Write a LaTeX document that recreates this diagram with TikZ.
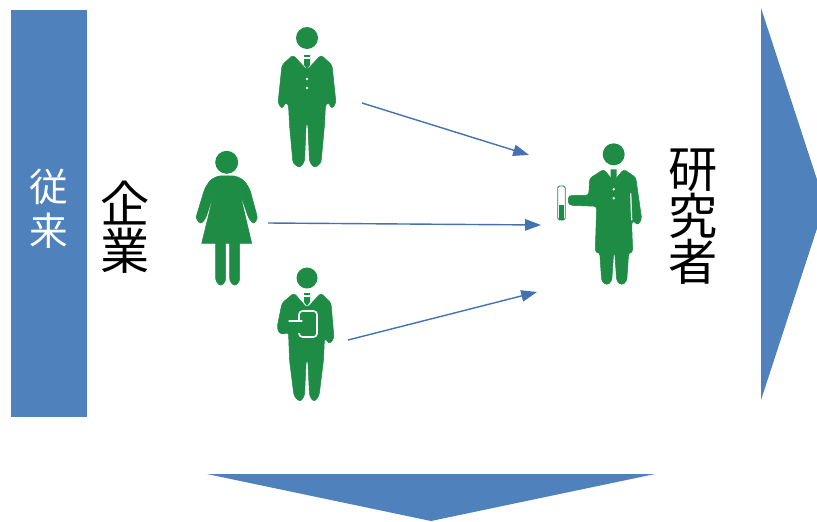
\documentclass[tikz,border=0pt]{standalone}
\usepackage{fontspec}
\newfontfamily\cjk{Noto Sans CJK JP}
\usetikzlibrary{arrows.meta,positioning}
\definecolor{azulBar}{RGB}{79,129,189}
\definecolor{azulArr}{RGB}{68,114,176}
\definecolor{verdeFig}{RGB}{30,140,69}
\tikzset{
  fig/.style  = {fill=verdeFig, draw=verdeFig, line width=0.3pt, rounded corners=1.6pt},
  gap/.style  = {draw=white, line width=0.7pt},
  bar/.style  = {fill=azulBar, draw=none},
  arr/.style  = {-{Triangle[length=9pt,width=6.5pt]}, draw=azulArr, line width=0.8pt},
  lblW/.style = {align=center, text=white, inner sep=0pt, font=\cjk\fontsize{22}{25}\selectfont},
  lblK/.style = {align=center, text=black, inner sep=0pt, font=\cjk\fontsize{28}{26.5}\selectfont},
  pics/manfig/.style = {code={
    \fill[verdeFig] (0,0) circle (11);
    \path[fig] (-14,17) -- (-25,27) -- (-29,65) -- (-25,71) -- (-21,64) -- (-18.5,67)
      -- (-17.5,87) -- (-14,125) -- (-7.5,130) -- (-2.5,124) -- (-0.8,85) -- (0.8,85) -- (2.5,124) -- (7.5,130)
      -- (14,125) -- (17.5,87) -- (18.5,67) -- (21,64) -- (25,71) -- (29,65) -- (25,27) -- (14,17)
      -- (0,32) -- cycle;
    \fill[verdeFig] (-3,17) -- (3,17) -- (3,27) -- (0,31) -- (-3,27) -- cycle;
    \draw[gap] (-3,20) -- (3,20);
    \fill[white] (0,41) circle (1.4) (0,50) circle (1.4);
  }},
}
\begin{document}
\begin{tikzpicture}[x=0.02cm, y=-0.02cm]
\useasboundingbox (0,0) rectangle (817,521);
\clip (0,0) rectangle (817,521);

% ── Barras ───────────────────────────────────────────────────
\node[bar, minimum width=1.52cm, minimum height=8.14cm, inner sep=0pt] (conv) at (49,213.5) {};
\node[lblW] (convT) at (49,209) {従\\来};
\path[bar, fill=azulBar] (761,8) -- (825,204) -- (761,400) -- cycle;
\path[bar, fill=azulBar] (207,474) -- (655,474) -- (431,521) -- cycle;

% ── Textos ───────────────────────────────────────────────────
\node[lblK] (kigyo)  at (125,227) {企\\業};
\node[lblK] (kenkyu) at (693,217) {研\\究\\者};

% ── Hombre de arriba ─────────────────────────────────────────
\pic at (307,38) {manfig};

% ── Mujer ────────────────────────────────────────────────────
\begin{scope}[shift={(226.7,162.3)}]
  \fill[verdeFig] (0,0) circle (11.5);
  \path[fig] [rounded corners=4pt] (-12,13.5) -- (12,13.5) -- (22,23)
    [rounded corners=1.6pt] -- (31,56) -- (27,62) -- (22,56)
    -- (13,30) [sharp corners] -- (25,81) -- (13,81) [rounded corners=1.6pt]
    -- (13,119) -- (8,124) -- (3,119) [sharp corners] -- (3,81) -- (-1,81)
    [rounded corners=1.6pt] -- (-1,119) -- (-6,124) -- (-11,119)
    [sharp corners] -- (-11,81) -- (-25,81) -- (-12.5,30)
    [rounded corners=1.6pt] -- (-21,56) -- (-26,62) -- (-31,56)
    [rounded corners=4pt] -- (-21,23) -- cycle;
\end{scope}

% ── Hombre con tableta ───────────────────────────────────────
\begin{scope}[shift={(307,278)}]
  \fill[verdeFig] (0,0) circle (10.5);
  \path[fig] (-13,15) -- (-25,25) -- (-30,50) -- (-27,56) -- (-18.5,54)
    -- (-17.5,82) -- (-13,118) -- (-7,124) -- (-2.5,118) -- (-0.8,82) -- (0.8,82) -- (2.5,118) -- (7,124)
    -- (12,118) -- (16.5,82) -- (17.5,60) -- (20,63) -- (23,66) -- (27,60) -- (24,25) -- (14,15)
    -- (0,30) -- cycle;
  \fill[verdeFig] (-3,15) -- (3,15) -- (3,24) -- (0,28) -- (-3,24) -- cycle;
  \draw[gap] (-3,18) -- (3,18);
  \path[fill=verdeFig, draw=white, line width=0.9pt, rounded corners=2pt] (-8,33) rectangle (10,59);
  \path[fig, draw=none] (-28,43) -- (-5,43) -- (-2,49) -- (-5,55) -- (-28,56) -- cycle;
  \draw[gap, line cap=round] (-18,43) -- (-5,43);
\end{scope}

% ── Investigador ─────────────────────────────────────────────
\begin{scope}[shift={(613.7,154.3)}]
  \fill[verdeFig] (0,0) circle (11);
  \path[fig] (-10,15) -- (-24,24) -- (-25,41) -- (-44,41) -- (-46,46) -- (-44,51)
    -- (-17,52) -- (-18.5,98) -- (-14,98) -- (-12,127) -- (-7,131) -- (-2,127) -- (0,98)
    -- (1,98) -- (3,127) -- (8,131) -- (13,127) -- (15,98) -- (19,98) -- (18,70)
    -- (19,66) -- (24,71) -- (28,65) -- (22,23) -- (10,15) -- (0,27) -- cycle;
  \fill[verdeFig] (-3,15) -- (3,15) -- (3,23) -- (0,27) -- (-3,23) -- cycle;
  \draw[gap] (17,39) -- (18,66);
  \fill[white] (0,35) circle (1.4) (0,44) circle (1.4);
\end{scope}

% ── Tubo de ensayo ───────────────────────────────────────────
\node[draw=verdeFig, fill=white, line width=0.5pt, rounded corners=1pt, inner sep=0pt,
      minimum width=0.15cm, minimum height=0.68cm] (tubo) at (561.5,203) {};
\node[fill=verdeFig, inner sep=0pt, minimum width=0.09cm, minimum height=0.3cm,
      below=0.02cm of tubo.south, yshift=0.33cm] (nivel) {};

% ── Flechas ──────────────────────────────────────────────────
\coordinate (a1) at (362,103);
\coordinate (b1) at (529,155);
\coordinate (a2) at (268,223);
\coordinate (b2) at (541,225);
\coordinate (a3) at (348,340);
\coordinate (b3) at (537,292);
\draw[arr] (a1) -- (b1);
\draw[arr] (a2) -- (b2);
\draw[arr] (a3) -- (b3);

\end{tikzpicture}
\end{document}
